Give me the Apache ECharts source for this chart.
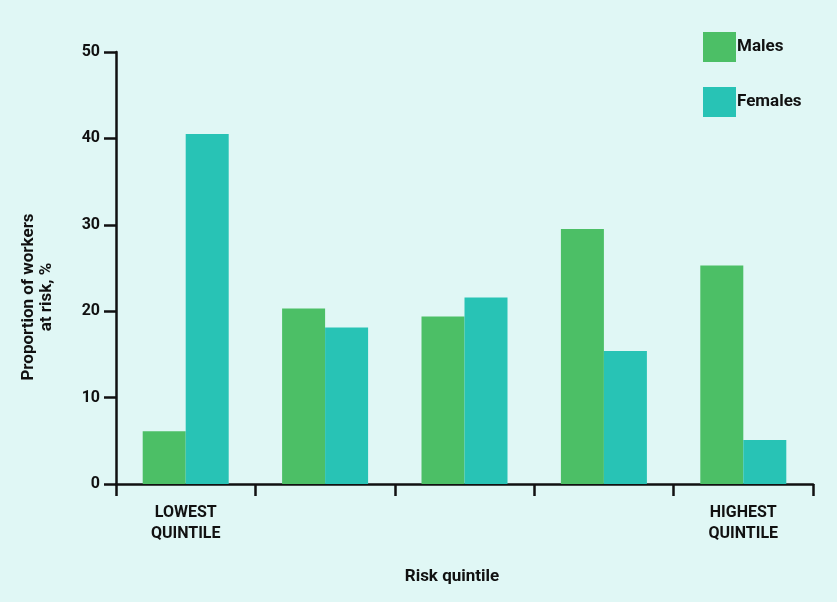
<!DOCTYPE html>
<html>
<head>
<meta charset="utf-8">
<script src="https://cdn.jsdelivr.net/npm/echarts@6/dist/echarts.min.js"></script>
<style>
  html, body { margin: 0; padding: 0; background: #e0f7f5; }
  #chart { width: 837px; height: 602px; }
</style>
</head>
<body>
<div id="chart"></div>
<script>
// data
const categories = ['LOWEST\nQUINTILE', '', '', '', 'HIGHEST\nQUINTILE']
const males = [6.1, 20.3, 19.4, 29.5, 25.3]
const females = [40.5, 18.1, 21.6, 15.4, 5.1]
const yTicks = [0, 10, 20, 30, 40, 50]

const chart = echarts.init(document.getElementById('chart'))
const font = 'Roboto, "Noto Sans", sans-serif'

const option = {
  backgroundColor: '#e0f7f5',
  textStyle: { fontFamily: font },
  grid: {
    top: 52,
    left: 116,
    right: 24,
    bottom: 118
  },
  legend: {
    orient: 'vertical',
    left: 703,
    top: 32,
    padding: 0,
    itemWidth: 33,
    itemHeight: 30,
    itemGap: 25,
    icon: 'rect',
    data: ['Males', 'Females'],
    textStyle: { fontSize: 17, fontWeight: 'bold', color: '#111', fontFamily: font, padding: [0, 0, 0, -4] }
  },
  xAxis: {
    type: 'category',
    data: categories,
    axisLine: { lineStyle: { color: '#111', width: 2.5 } },
    axisTick: { show: true, length: 12, lineStyle: { color: '#111', width: 2.5 } },
    axisLabel: {
      interval: 0,
      color: '#111',
      fontSize: 16,
      fontWeight: 'bold',
      lineHeight: 21,
      margin: 18,
      fontFamily: font
    },
    splitLine: { show: false }
  },
  yAxis: {
    type: 'value',
    min: yTicks[0],
    max: yTicks[yTicks.length - 1],
    interval: 10,
    axisLine: { show: true, lineStyle: { color: '#111', width: 2.5 } },
    axisTick: { show: true, length: 12, lineStyle: { color: '#111', width: 2.5 } },
    axisLabel: {
      color: '#111',
      fontSize: 16,
      fontWeight: 'bold',
      margin: 16,
      fontFamily: font
    },
    splitLine: { show: false }
  },
  graphic: [
    {
      type: 'text',
      x: 38,
      y: 297,
      rotation: Math.PI / 2,
      style: {
        text: 'Proportion of workers\nat risk, %',
        fill: '#111',
        font: 'bold 17px ' + font,
        textAlign: 'center',
        textVerticalAlign: 'middle',
        lineHeight: 18
      }
    },
    {
      type: 'text',
      x: 452,
      y: 577,
      style: {
        text: 'Risk quintile',
        fill: '#111',
        font: 'bold 17px ' + font,
        textAlign: 'center',
        textVerticalAlign: 'middle'
      }
    }
  ],
  series: [
    {
      type: 'bar',
      name: 'Males',
      data: males,
      barWidth: 43,
      barGap: '0%',
      itemStyle: { color: '#4cbf66' }
    },
    {
      type: 'bar',
      name: 'Females',
      data: females,
      barWidth: 43,
      barGap: '0%',
      itemStyle: { color: '#28c3b5' }
    }
  ]
}
chart.setOption(option)
</script>
</body>
</html>
